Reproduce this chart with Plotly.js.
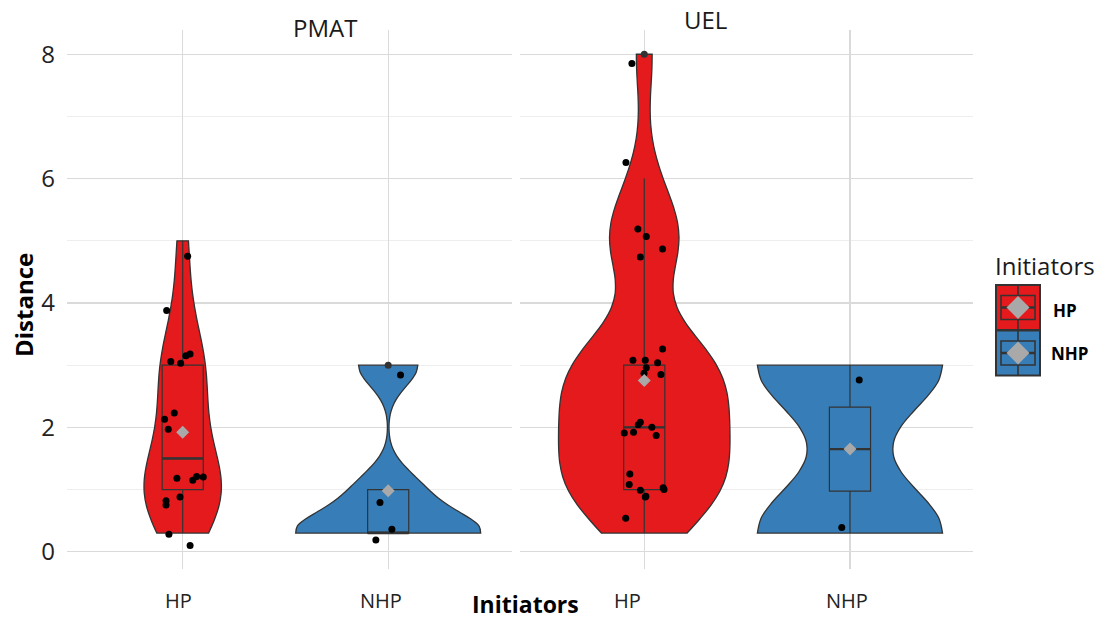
<!DOCTYPE html>
<html><head><meta charset="utf-8">
<script src="https://cdn.plot.ly/plotly-3.0.1.min.js"></script>
<style>html,body{margin:0;padding:0;background:#fff;} #chart{width:1104px;height:619px;}</style>
</head><body><div id="chart"></div>
<script>
// ---------------- data ----------------
const facets = ['PMAT', 'UEL'];
const categories = ['HP', 'NHP'];
const groupColors = ['#E41A1C', '#377EB8'];
const yTicks = [0, 2, 4, 6, 8];

// distances per facet / initiator group (reconstructed from box stats & points)
const pmatHP  = [5, 4, 3, 3, 3, 3, 2, 2, 2, 1, 1, 1, 1, 1, 1, 1, 0.3, 0.3];
const pmatNHP = [3, 1, 0.3, 0.3, 0.3];
const uelHP   = [8, 6, 5, 5, 5, 5, 3, 3, 3, 3, 3, 3, 3, 2, 2, 2, 2, 2, 2, 1, 1, 1, 1, 1, 1, 1, 0.3];
const uelNHP  = [3, 0.3];

// jittered points as drawn (value and horizontal jitter)
const pmatHPJitterY  = [4.75, 3.88, 3.06, 3.03, 3.15, 3.18, 2.23, 2.13, 1.97, 1.18, 1.15, 1.21, 1.20, 0.88, 0.82, 0.75, 0.28, 0.10];
const pmatHPJitterDX = [0.024, -0.078, -0.058, -0.010, 0.016, 0.036, -0.041, -0.088, -0.070, -0.028, 0.049, 0.068, 0.100, -0.013, -0.081, -0.081, -0.067, 0.036];
const pmatNHPJitterY  = [2.84, 0.79, 0.36, 0.19];
const pmatNHPJitterDX = [0.060, -0.040, 0.018, -0.060];
const uelHPJitterY  = [7.85, 6.26, 5.19, 5.07, 4.87, 4.74, 3.26, 3.08, 3.08, 3.04, 2.96, 2.87, 2.85, 2.08, 2.04, 2.00, 1.91, 1.92, 1.87, 1.25, 1.08, 0.99, 1.03, 1.00, 0.89, 0.88, 0.54];
const uelHPJitterDX = [-0.060, -0.089, -0.031, 0.010, 0.089, -0.019, 0.089, -0.055, 0.005, 0.065, 0.010, -0.001, 0.081, -0.019, -0.029, 0.037, -0.097, -0.052, 0.058, -0.070, -0.073, -0.019, 0.092, 0.096, 0.008, 0.005, -0.090];
const uelNHPJitterY  = [2.76, 0.39];
const uelNHPJitterDX = [0.045, -0.040];

// ---------------- helpers ----------------
function sortedCopy(a){ return a.slice().sort((p, q) => p - q); }
function quantile7(s, p){ const h = (s.length - 1) * p, lo = Math.floor(h), hi = Math.ceil(h); return s[lo] + (h - lo) * (s[hi] - s[lo]); }
function mean(a){ return a.reduce((s, v) => s + v, 0) / a.length; }
function sdev(a){ const m = mean(a); return Math.sqrt(a.reduce((s, v) => s + (v - m) * (v - m), 0) / (a.length - 1)); }
function bwNrd0(a){
  const s = sortedCopy(a); const hi = sdev(a);
  const iqr = quantile7(s, 0.75) - quantile7(s, 0.25);
  let lo = Math.min(hi, iqr / 1.34);
  if (!(lo > 0)) lo = hi || Math.abs(s[0]) || 1;
  return 0.9 * lo * Math.pow(a.length, -0.2);
}
function maxDensity(a, bw){
  const s = sortedCopy(a); const lo = s[0], hi = s[s.length - 1]; let best = 0;
  for (let i = 0; i < 512; i++) {
    const y = lo + (hi - lo) * i / 511; let d = 0;
    for (const v of a) { const z = (y - v) / bw; d += Math.exp(-0.5 * z * z); }
    d /= (a.length * bw * Math.sqrt(2 * Math.PI));
    if (d > best) best = d;
  }
  return best;
}
function boxStats(a){
  const s = sortedCopy(a);
  const q1 = quantile7(s, 0.25), med = quantile7(s, 0.5), q3 = quantile7(s, 0.75), iqr = q3 - q1;
  const lo = q1 - 1.5 * iqr, hi = q3 + 1.5 * iqr;
  const inside = s.filter(v => v >= lo && v <= hi);
  return { q1, med, q3, lf: inside[0], uf: inside[inside.length - 1], out: s.filter(v => v < lo || v > hi), mean: mean(a) };
}

const panels = [
  { facet: facets[0], xaxis: 'x',  labelShift: [-4, -7], groups: [
    { cat: 0, vals: pmatHP,  jy: pmatHPJitterY,  jdx: pmatHPJitterDX },
    { cat: 1, vals: pmatNHP, jy: pmatNHPJitterY, jdx: pmatNHPJitterDX } ] },
  { facet: facets[1], xaxis: 'x2', labelShift: [-17, -3], groups: [
    { cat: 0, vals: uelHP,  jy: uelHPJitterY,  jdx: uelHPJitterDX },
    { cat: 1, vals: uelNHP, jy: uelNHPJitterY, jdx: uelNHPJitterDX } ] }
];

const OUT = '#333333';
const violins = [], boxes = [], medians = [], jitters = [], outliers = [], means = [];
let sg = 0;
panels.forEach(p => {
  p.groups.forEach(g => { g.bw = bwNrd0(g.vals); g.maxD = maxDensity(g.vals, g.bw); });
  const panelMax = Math.max(...p.groups.map(g => g.maxD));
  p.groups.forEach(g => {
    const col = groupColors[g.cat];
    const st = boxStats(g.vals);
    violins.push({
      type: 'violin', x0: g.cat, y: g.vals, name: categories[g.cat],
      xaxis: p.xaxis, yaxis: 'y', spanmode: 'hard', bandwidth: g.bw,
      scalemode: 'width', scalegroup: 'sg' + (sg++), width: 0.9 * g.maxD / panelMax,
      side: 'both', points: false, fillcolor: col, opacity: 1,
      line: { color: OUT, width: 1.3 }, box: { visible: false }, meanline: { visible: false },
      hoverinfo: 'skip', showlegend: false
    });
    boxes.push({
      type: 'box', x: [g.cat], q1: [st.q1], median: [st.med], q3: [st.q3],
      lowerfence: [st.lf], upperfence: [st.uf], boxpoints: false,
      width: 0.2, whiskerwidth: 0, fillcolor: col, line: { color: OUT, width: 1.2 },
      xaxis: p.xaxis, yaxis: 'y', hoverinfo: 'skip', showlegend: false
    });
    medians.push({
      type: 'scatter', mode: 'lines', x: [g.cat - 0.1, g.cat + 0.1], y: [st.med, st.med],
      line: { color: OUT, width: 2.4 }, xaxis: p.xaxis, yaxis: 'y', hoverinfo: 'skip', showlegend: false
    });
    jitters.push({
      type: 'scatter', mode: 'markers', x: g.jdx.map(d => g.cat + d), y: g.jy,
      marker: { color: '#000000', size: 7 }, xaxis: p.xaxis, yaxis: 'y', hoverinfo: 'skip', showlegend: false
    });
    outliers.push({
      type: 'scatter', mode: 'markers', x: st.out.map(() => g.cat), y: st.out,
      marker: { color: OUT, size: 7 }, xaxis: p.xaxis, yaxis: 'y', hoverinfo: 'skip', showlegend: false
    });
    means.push({
      type: 'scatter', mode: 'markers', x: [g.cat], y: [st.mean],
      marker: { color: '#A9A9A9', size: 10, symbol: 'diamond' }, xaxis: p.xaxis, yaxis: 'y', hoverinfo: 'skip', showlegend: false
    });
  });
});

// ---------------- layout ----------------
const W = 1104, H = 619, ML = 67, MR = 131, MT = 30, MB = 50;
const PW = W - ML - MR, PH = H - MT - MB;
const fx = x => (x - ML) / PW;
const fy = y => (H - MB - y) / PH;
const TXT = '#1a1a1a';
const GRID = '#dadada', MINOR = '#eeeeee';

const xCommon = {
  tickvals: [0, 1], ticktext: categories, showticklabels: false, ticks: '', showline: false, zeroline: false,
  showgrid: true, gridcolor: GRID, gridwidth: 1.2, anchor: 'y', fixedrange: true
};

const base = { xref: 'paper', yref: 'paper', showarrow: false, xanchor: 'center', yanchor: 'middle' };
const annotations = [
  { text: facets[0], x: fx(325), y: fy(28), font: { size: 24, color: TXT } },
  { text: facets[1], x: fx(705), y: fy(20), font: { size: 24, color: TXT } },
  { text: '<b>Initiators</b>', x: fx(525), y: fy(604), font: { size: 23, color: '#000' } },
  { text: '<b>Distance</b>', x: fx(23), y: fy(305), textangle: -90, font: { size: 24, color: '#000' } },
  { text: 'Initiators', x: fx(993), y: fy(265), xanchor: 'left', font: { size: 24, color: TXT } },
  { text: '<b>' + categories[0] + '</b>', x: fx(1051), y: fy(310), xanchor: 'left', font: { size: 17, color: '#000' } },
  { text: '<b>' + categories[1] + '</b>', x: fx(1049), y: fy(353), xanchor: 'left', font: { size: 17, color: '#000' } }
].map(a => Object.assign({}, base, a));

// category tick labels under each facet
panels.forEach(p => {
  categories.forEach((c, i) => {
    annotations.push(Object.assign({}, base, {
      text: c, xref: p.xaxis, x: i, xshift: p.labelShift[i], y: fy(600),
      font: { size: 20, color: '#222' }
    }));
  });
});

const shapes = [];
categories.forEach((c, i) => {
  const top = 285 + i * 45.5, bot = top + 45, cx = 1018, cy = (top + bot) / 2;
  const col = groupColors[i];
  shapes.push({ type: 'rect', x0: fx(996), x1: fx(1040), y0: fy(top), y1: fy(bot), fillcolor: col, line: { color: OUT, width: 2 } });
  shapes.push({ type: 'line', x0: fx(cx), x1: fx(cx), y0: fy(top), y1: fy(bot), line: { color: OUT, width: 1.6 } });
  shapes.push({ type: 'rect', x0: fx(1001), x1: fx(1035), y0: fy(cy - 12), y1: fy(cy + 12), fillcolor: col, line: { color: OUT, width: 1.6 } });
  shapes.push({ type: 'line', x0: fx(1001), x1: fx(1035), y0: fy(cy), y1: fy(cy), line: { color: OUT, width: 2.6 } });
  const r = 11.5;
  shapes.push({ type: 'path', path: `M ${fx(cx - r)} ${fy(cy)} L ${fx(cx)} ${fy(cy - r)} L ${fx(cx + r)} ${fy(cy)} L ${fx(cx)} ${fy(cy + r)} Z`,
                fillcolor: '#A9A9A9', line: { width: 0 } });
});
shapes.forEach(s => { s.xref = 'paper'; s.yref = 'paper'; });

const layout = {
  width: W, height: H, margin: { l: ML, r: MR, t: MT, b: MB, pad: 0 },
  paper_bgcolor: '#ffffff', plot_bgcolor: '#ffffff',
  font: { family: 'Open Sans', color: TXT },
  showlegend: false, hovermode: false,
  violinmode: 'overlay', boxmode: 'overlay', violingap: 0, violingroupgap: 0, boxgap: 0, boxgroupgap: 0,
  xaxis: Object.assign({}, xCommon, { domain: [0, fx(511.7)], range: [-0.563, 1.601] }),
  xaxis2: Object.assign({}, xCommon, { domain: [fx(520), 1], range: [-0.604, 1.598] }),
  yaxis: {
    range: [-0.278, 8.39], tickvals: yTicks, ticktext: yTicks.map(String), ticks: '', showline: false, zeroline: false,
    showgrid: true, gridcolor: GRID, gridwidth: 1.2, anchor: 'x', fixedrange: true,
    minor: { dtick: 1, tick0: 0, showgrid: true, gridcolor: MINOR, gridwidth: 1, ticks: '' },
    tickfont: { family: 'Open Sans', size: 24, color: '#222' }, ticklabelstandoff: 11
  },
  annotations, shapes
};

Plotly.newPlot('chart', [...violins, ...boxes, ...medians, ...jitters, ...outliers, ...means], layout, { displayModeBar: false, staticPlot: true });
</script>
</body></html>
